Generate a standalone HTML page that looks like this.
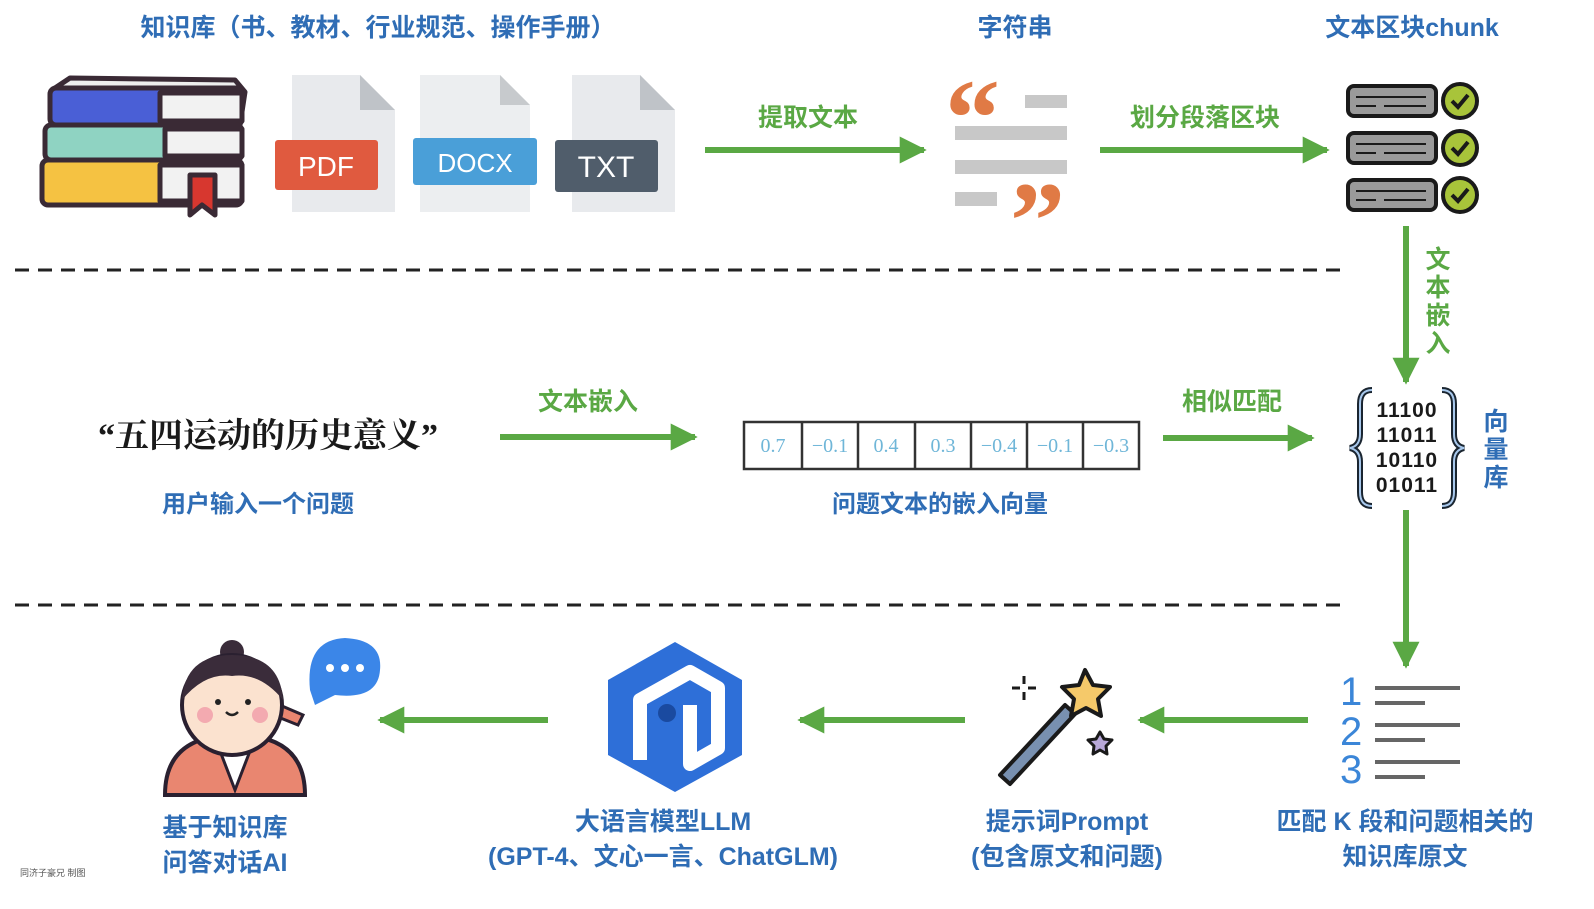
<!DOCTYPE html>
<html><head><meta charset="utf-8"><style>
html,body{margin:0;padding:0;background:#fff;}
svg{display:block}
.b{fill:#2f6db5;font-family:"Liberation Sans","Noto Sans CJK SC",sans-serif;font-weight:bold;}
.g{fill:#5aa844;font-family:"Liberation Sans","Noto Sans CJK SC",sans-serif;font-weight:bold;}
</style></head><body>
<svg width="1594" height="909" viewBox="0 0 1594 909" xmlns="http://www.w3.org/2000/svg">
<defs>
<marker id="ar" viewBox="0 0 10 10" refX="9" refY="5" markerWidth="4.5" markerHeight="5" orient="auto"><path d="M0,0 L10,5 L0,10 z" fill="#5aa844"/></marker>
</defs>
<text class="b" x="378" y="36" font-size="25" text-anchor="middle">知识库（书、教材、行业规范、操作手册）</text>
<text class="b" x="1015" y="36" font-size="25" text-anchor="middle">字符串</text>
<text class="b" x="1412" y="36" font-size="25" text-anchor="middle">文本区块chunk</text>

<!-- books -->
<g stroke="#3a2a35" stroke-width="5" stroke-linejoin="round">
<path d="M55,88 L70,78 L235,80 L245,92 L240,125 L55,125Z" fill="#eee"/>
<rect x="50" y="88" width="192" height="37" rx="6" fill="#4a5fd6"/>
<rect x="160" y="93" width="82" height="28" fill="#f2f2f2"/>
<rect x="45" y="125" width="197" height="35" rx="6" fill="#8fd3c2"/>
<rect x="165" y="129" width="77" height="27" fill="#f2f2f2"/>
<rect x="42" y="160" width="200" height="45" rx="6" fill="#f5c242"/>
<rect x="160" y="165" width="82" height="36" fill="#f2f2f2"/>
<path d="M190,175 L215,175 L215,215 L202,205 L190,215Z" fill="#d7372f"/>
</g>
<!-- docs -->
<path d="M292,75 L360,75 L395,110 L395,212 L292,212Z" fill="#e8eaed"/><path d="M360,75 L395,110 L360,110Z" fill="#bfc3c8"/>
<rect x="275" y="140" width="103" height="50" rx="3" fill="#e05a3f"/>
<text x="326" y="176" font-size="28" fill="#fff" text-anchor="middle" font-family="Liberation Sans,sans-serif">PDF</text>
<path d="M420,75 L500,75 L530,105 L530,212 L420,212Z" fill="#eceef0"/><path d="M500,75 L530,105 L500,105Z" fill="#c7cacd"/>
<rect x="413" y="138" width="124" height="47" rx="3" fill="#4a9fd8"/>
<text x="475" y="172" font-size="26" fill="#fff" text-anchor="middle" font-family="Liberation Sans,sans-serif">DOCX</text>
<path d="M572,75 L640,75 L675,110 L675,212 L572,212Z" fill="#e8eaed"/><path d="M640,75 L675,110 L640,110Z" fill="#bfc3c8"/>
<rect x="555" y="140" width="103" height="52" rx="3" fill="#505d6b"/>
<text x="606" y="177" font-size="30" fill="#fff" text-anchor="middle" font-family="Liberation Sans,sans-serif">TXT</text>

<line x1="705" y1="150" x2="924" y2="150" stroke="#5aa844" stroke-width="6" marker-end="url(#ar)"/>
<text class="g" x="808" y="126" font-size="25" text-anchor="middle">提取文本</text>
<line x1="1100" y1="150" x2="1327" y2="150" stroke="#5aa844" stroke-width="6" marker-end="url(#ar)"/>
<text class="g" x="1205" y="126" font-size="25" text-anchor="middle">划分段落区块</text>

<!-- quote icon -->
<text x="945" y="155" font-size="110" fill="#e07a45" font-family="Liberation Serif,serif" font-weight="bold">“</text>
<text x="1010" y="258" font-size="110" fill="#e07a45" font-family="Liberation Serif,serif" font-weight="bold">”</text>
<rect x="1025" y="95" width="42" height="13" fill="#c8c8c8"/>
<rect x="955" y="126" width="112" height="14" fill="#c8c8c8"/>
<rect x="955" y="160" width="112" height="14" fill="#c8c8c8"/>
<rect x="955" y="192" width="42" height="14" fill="#c8c8c8"/>

<!-- chunks -->
<g stroke="#1a1a1a" stroke-width="4">
<rect x="1348" y="86" width="88" height="30" rx="6" fill="#9a9a9a"/>
<rect x="1348" y="133" width="88" height="30" rx="6" fill="#9a9a9a"/>
<rect x="1348" y="180" width="88" height="30" rx="6" fill="#9a9a9a"/>
<circle cx="1460" cy="101" r="17" fill="#a8c43a"/>
<circle cx="1460" cy="148" r="17" fill="#a8c43a"/>
<circle cx="1460" cy="195" r="17" fill="#a8c43a"/>
<path d="M1452,101 l6,6 l10,-12 M1452,148 l6,6 l10,-12 M1452,195 l6,6 l10,-12" fill="none"/>
<path d="M1356,97 h70 M1356,106 h20 M1384,106 h42 M1356,144 h70 M1356,153 h20 M1384,153 h42 M1356,191 h70 M1356,200 h20 M1384,200 h42" stroke-width="2"/>
</g>

<line x1="15" y1="270" x2="1340" y2="270" stroke="#222" stroke-width="3" stroke-dasharray="14,9"/>
<line x1="15" y1="605" x2="1345" y2="605" stroke="#222" stroke-width="3" stroke-dasharray="14,9"/>

<line x1="1406" y1="226" x2="1406" y2="382" stroke="#5aa844" stroke-width="6" marker-end="url(#ar)"/>
<g class="g" font-size="25" text-anchor="middle"><text x="1438" y="268">文</text><text x="1438" y="296">本</text><text x="1438" y="324">嵌</text><text x="1438" y="352">入</text></g>
<line x1="1406" y1="510" x2="1406" y2="666" stroke="#5aa844" stroke-width="6" marker-end="url(#ar)"/>

<!-- vector db -->
<path d="M1372,390 q-12,0 -12,14 v30 q0,12 -10,14 q10,2 10,14 v30 q0,14 12,14" fill="none" stroke="#1a2530" stroke-width="6"/>
<path d="M1372,390 q-12,0 -12,14 v30 q0,12 -10,14 q10,2 10,14 v30 q0,14 12,14" fill="none" stroke="#a8c8ec" stroke-width="2"/>
<path d="M1442,390 q12,0 12,14 v30 q0,12 10,14 q-10,2 -10,14 v30 q0,14 -12,14" fill="none" stroke="#1a2530" stroke-width="6"/>
<path d="M1442,390 q12,0 12,14 v30 q0,12 10,14 q-10,2 -10,14 v30 q0,14 -12,14" fill="none" stroke="#a8c8ec" stroke-width="2"/>
<g font-family="Liberation Sans,sans-serif" font-size="21" fill="#1a1a1a" text-anchor="middle" font-weight="bold" letter-spacing="1">
<text x="1407" y="417">11100</text><text x="1407" y="442">11011</text><text x="1407" y="467">10110</text><text x="1407" y="492">01011</text></g>
<g class="b" font-size="25" text-anchor="middle"><text x="1496" y="430">向</text><text x="1496" y="458">量</text><text x="1496" y="486">库</text></g>

<text x="268" y="447" font-size="34" fill="#1a1a1a" text-anchor="middle" font-weight="bold" font-family="Liberation Serif,'Noto Serif CJK SC',serif">“五四运动的历史意义”</text>
<text class="b" x="258" y="512" font-size="24" text-anchor="middle">用户输入一个问题</text>
<line x1="500" y1="437" x2="695" y2="437" stroke="#5aa844" stroke-width="6" marker-end="url(#ar)"/>
<text class="g" x="588" y="410" font-size="25" text-anchor="middle">文本嵌入</text>
<g stroke="#333" stroke-width="2.5" fill="none">
<rect x="744" y="422" width="395" height="47"/>
<path d="M802,422v47M858,422v47M915,422v47M971,422v47M1027,422v47M1083,422v47"/>
</g>
<g font-family="Liberation Serif,serif" font-size="20" fill="#6fb6d8" text-anchor="middle">
<text x="773" y="452">0.7</text><text x="830" y="452">−0.1</text><text x="886" y="452">0.4</text><text x="943" y="452">0.3</text><text x="999" y="452">−0.4</text><text x="1055" y="452">−0.1</text><text x="1111" y="452">−0.3</text></g>
<text class="b" x="940" y="512" font-size="24" text-anchor="middle">问题文本的嵌入向量</text>
<line x1="1163" y1="438" x2="1312" y2="438" stroke="#5aa844" stroke-width="6" marker-end="url(#ar)"/>
<text class="g" x="1232" y="410" font-size="25" text-anchor="middle">相似匹配</text>

<line x1="1308" y1="720" x2="1140" y2="720" stroke="#5aa844" stroke-width="6" marker-end="url(#ar)"/>
<line x1="965" y1="720" x2="800" y2="720" stroke="#5aa844" stroke-width="6" marker-end="url(#ar)"/>
<line x1="548" y1="720" x2="380" y2="720" stroke="#5aa844" stroke-width="6" marker-end="url(#ar)"/>

<g font-family="Liberation Sans,sans-serif" font-size="40" fill="#3b86d8"><text x="1340" y="705">1</text><text x="1340" y="745">2</text><text x="1340" y="783">3</text></g>
<g stroke="#666" stroke-width="4"><path d="M1375,688h85M1375,703h50M1375,725h85M1375,740h50M1375,762h85M1375,777h50"/></g>

<!-- wand -->
<g stroke="#1a1a1a" stroke-width="4" stroke-linejoin="round">
<path d="M1000,775 L1065,705 L1075,714 L1010,784Z" fill="#7890b0"/>
<path d="M1085,670 l8,15 l17,2 l-12,12 l3,17 l-15,-8 l-15,8 l3,-17 l-12,-12 l17,-2Z" fill="#f5c96a"/>
<path d="M1100,732 l4,7 l8,1 l-6,6 l1,8 l-7,-4 l-7,4 l1,-8 l-6,-6 l8,-1Z" fill="#b8a8d8" stroke-width="3"/>
<path d="M1024,676v8M1024,692v8M1012,688h8M1028,688h8" stroke-width="3"/>
</g>

<!-- hexagon logo -->
<path d="M675,642 L742,680 L742,755 L675,792 L608,755 L608,680Z" fill="#2e6fd8"/>
<path d="M640,760 L640,700 L690,672 L718,688 L718,748 L690,764 L690,705" fill="none" stroke="#fff" stroke-width="14" stroke-linejoin="round"/>
<circle cx="667" cy="713" r="9" fill="#1a4aa0"/>

<!-- character -->
<circle cx="232" cy="652" r="12" fill="#3a2c3a"/>
<path d="M268,700 l35,15 l-5,10 l-30,-12Z" fill="#e98670" stroke="#2a2030" stroke-width="3"/>
<path d="M165,795 Q165,735 235,735 Q305,735 305,795Z" fill="#e98670" stroke="#2a2030" stroke-width="4"/>
<path d="M215,738 L235,790 L255,738" fill="#fff" stroke="#2a2030" stroke-width="3"/>
<circle cx="232" cy="705" r="50" fill="#fbe2cf" stroke="#2a2030" stroke-width="4"/>
<path d="M182,700 Q185,655 232,655 Q280,655 283,700 Q260,672 232,676 Q205,672 182,700Z" fill="#3a2c3a"/>
<circle cx="205" cy="715" r="8" fill="#f3aab0"/><circle cx="260" cy="715" r="8" fill="#f3aab0"/>
<circle cx="218" cy="702" r="3" fill="#222"/><circle cx="248" cy="702" r="3" fill="#222"/>
<path d="M226,712 q6,6 12,0" stroke="#222" stroke-width="2.5" fill="none"/>
<path d="M310,690 Q305,640 345,638 Q383,640 380,670 Q378,700 335,695 L315,705Z" fill="#3b86e8"/>
<circle cx="330" cy="668" r="4" fill="#fff"/><circle cx="345" cy="668" r="4" fill="#fff"/><circle cx="360" cy="668" r="4" fill="#fff"/>

<g class="b" font-size="25" text-anchor="middle">
<text x="225" y="836">基于知识库</text><text x="225" y="871">问答对话AI</text>
<text x="663" y="830">大语言模型LLM</text><text x="663" y="865">(GPT-4、文心一言、ChatGLM)</text>
<text x="1067" y="830">提示词Prompt</text><text x="1067" y="865">(包含原文和问题)</text>
<text x="1405" y="830">匹配 K 段和问题相关的</text><text x="1405" y="865">知识库原文</text>
</g>
<text x="20" y="876" font-size="9" fill="#555" font-family="Liberation Sans,'Noto Sans CJK SC',sans-serif">同济子豪兄 制图</text>
</svg>
</body></html>
